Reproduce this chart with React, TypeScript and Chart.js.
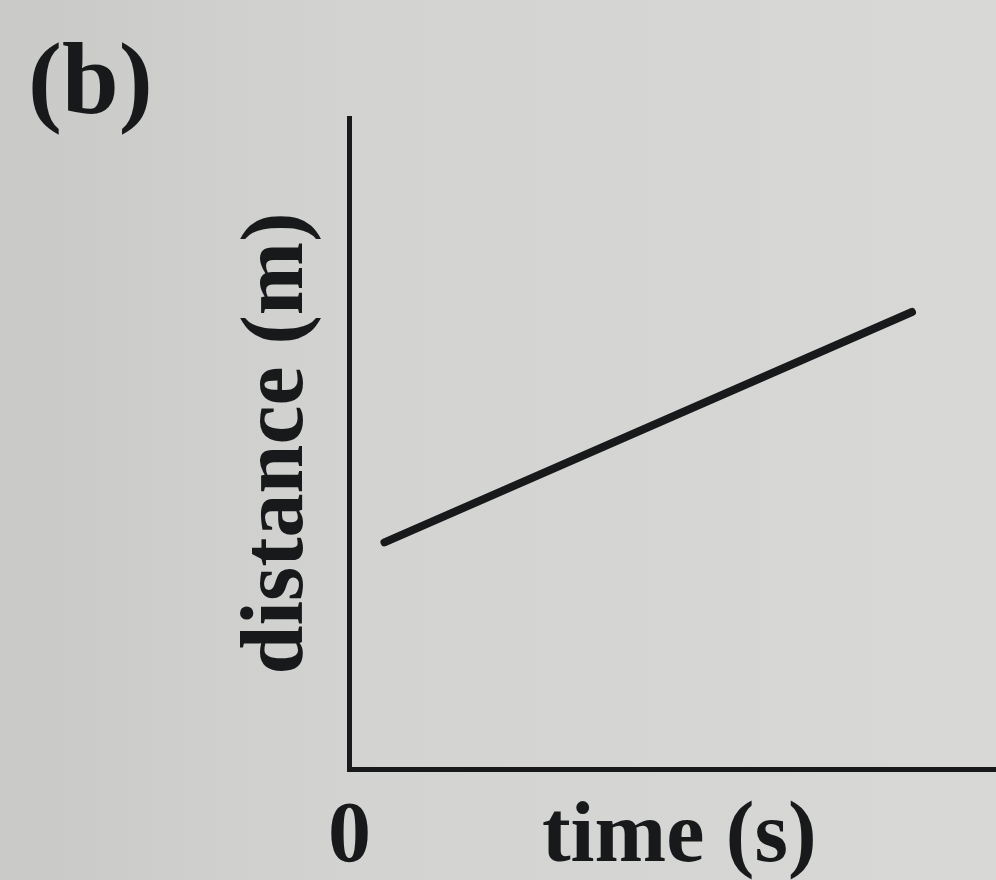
import React, { useEffect, useRef } from 'react';
import { Chart, registerables } from 'chart.js';

Chart.register(...registerables);

const panelLabel = '(b)';
const yTitle = 'distance (m)';
const timeValues = [0.54, 8.7];
const distanceValues = [3.48, 7.02];
const xTickValues = [0, 5.1];
const xTickLabels = ['0', 'time (s)'];

const INK = '#17191b';
const FONT = '"Liberation Serif", "DejaVu Serif", serif';

const paperPlugin = {
  id: 'paper',
  beforeDraw(chart: any) {
    const { ctx, width, height } = chart;
    ctx.save();
    const g = ctx.createLinearGradient(0, 0, width, 0);
    g.addColorStop(0, '#c9cac8');
    g.addColorStop(0.35, '#d3d4d2');
    g.addColorStop(1, '#d8d9d7');
    ctx.fillStyle = g;
    ctx.fillRect(0, 0, width, height);
    ctx.restore();
  },
};

const panelLabelPlugin = {
  id: 'panelLabel',
  afterDraw(chart: any) {
    const { ctx } = chart;
    ctx.save();
    ctx.fillStyle = INK;
    ctx.font = `bold 102px ${FONT}`;
    ctx.textBaseline = 'alphabetic';
    ctx.textAlign = 'left';
    ctx.fillText(panelLabel, 28, 113);
    ctx.restore();
  },
};

export default function App() {
  const ref = useRef<HTMLCanvasElement | null>(null);

  useEffect(() => {
    if (!ref.current) return;
    const chart = new Chart(ref.current, {
      type: 'line',
      data: {
        datasets: [
          {
            data: timeValues.map((t, i) => ({ x: t, y: distanceValues[i] })),
            borderColor: INK,
            borderWidth: 8,
            borderCapStyle: 'round',
            pointRadius: 0,
            fill: false,
            tension: 0,
          },
        ],
      },
      options: {
        animation: false,
        responsive: false,
        events: [],
        layout: { padding: { left: 0, top: 118, right: 0, bottom: -29 } },
        plugins: {
          legend: { display: false },
          tooltip: { enabled: false },
          title: { display: false },
        },
        scales: {
          x: {
            type: 'linear',
            min: 0,
            max: 10,
            grid: { display: false, drawTicks: false },
            border: { display: true, color: INK, width: 5 },
            afterBuildTicks: (scale: any) => {
              scale.ticks = xTickValues.map((v) => ({ value: v }));
            },
            ticks: {
              autoSkip: false,
              maxRotation: 0,
              minRotation: 0,
              padding: 27,
              color: INK,
              font: { family: FONT, size: 86, weight: 'bold', lineHeight: 1 },
              callback: (_v: any, i: number) => xTickLabels[i],
            },
          },
          y: {
            type: 'linear',
            min: 0,
            max: 10,
            grid: { display: false, drawTicks: false },
            border: { display: true, color: INK, width: 5 },
            ticks: { display: false },
            title: {
              display: true,
              text: yTitle,
              color: INK,
              font: { family: FONT, size: 88, weight: 'bold', lineHeight: 1.2 },
              padding: { top: 226, bottom: 18 },
            },
          },
        },
      },
      plugins: [paperPlugin, panelLabelPlugin],
    } as any);
    return () => chart.destroy();
  }, []);

  return (
    <div style={{ position: 'absolute', left: 0, top: 0, width: 996, height: 880 }}>
      <canvas ref={ref} width={996} height={880} />
    </div>
  );
}
